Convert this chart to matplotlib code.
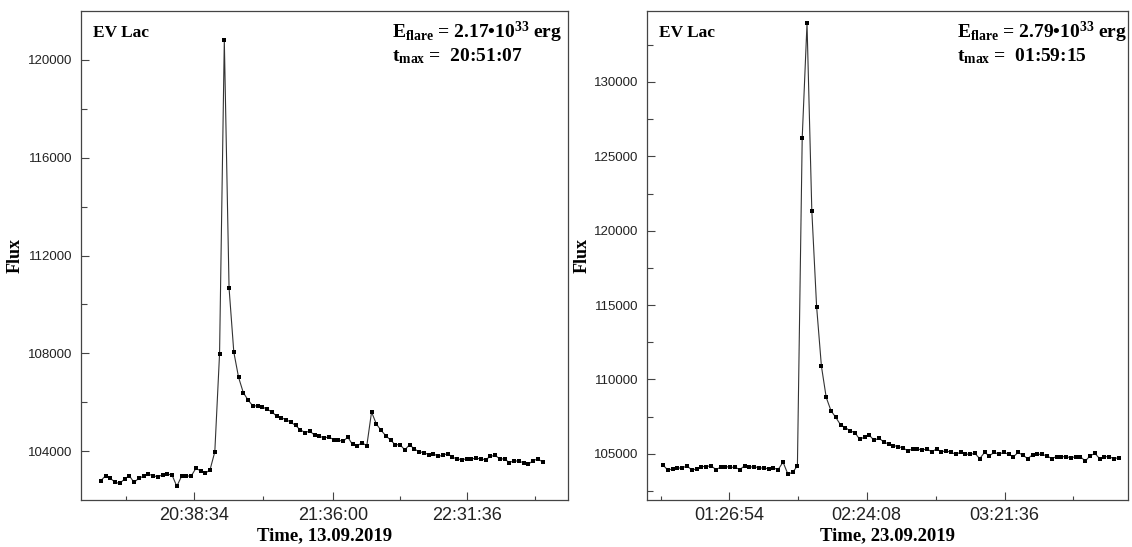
import matplotlib
matplotlib.use("Agg")
import matplotlib.pyplot as plt
import numpy as np
from matplotlib.ticker import FixedLocator, FixedFormatter, NullFormatter

plt.rcParams['mathtext.fontset'] = 'custom'
plt.rcParams['mathtext.rm'] = 'Liberation Serif'
plt.rcParams['mathtext.bf'] = 'Liberation Serif:bold'
plt.rcParams['mathtext.it'] = 'Liberation Serif:italic'


def hms(s):
    h, m, sec = (int(v) for v in s.split(':'))
    return h * 3600 + m * 60 + sec


# ---- flare 1: 13.09.2019 (cadence ~118 s, peak at index 26)
flux1 = [102790, 102990, 102890, 102720, 102680, 102860, 102990, 102720, 102890, 102970,
         103060, 102990, 102950, 103030, 103060, 103020, 102560, 102970, 102990, 102970,
         103290, 103200, 103090, 103240, 103970,
         107980, 120800, 110670, 108050, 107020, 106390, 106090, 105850, 105850, 105810,
         105710, 105610, 105430, 105360, 105290, 105180, 105050, 104870, 104760, 104820,
         104650, 104610, 104540, 104580, 104470, 104450, 104400, 104570, 104270, 104220,
         104340, 104220,
         105600,
         105110, 104850, 104630, 104450, 104260, 104260, 104050, 104260, 104090, 103970,
         103940, 103860, 103900, 103780, 103830, 103900, 103750, 103680, 103650, 103680,
         103680, 103710, 103680, 103650, 103780, 103830, 103680, 103680, 103530, 103610,
         103580, 103530, 103460, 103610, 103680, 103560]
tmax1 = '20:51:07'
peak1 = 26
cad1 = 118
ticks1 = ['20:38:34', '21:36:00', '22:31:36']
xlim1 = (71507, 83605)
ylim1 = (102000, 122000)
ymajor1 = [104000, 108000, 112000, 116000, 120000]
yminor1 = [106000, 110000, 114000, 118000]
energy1 = '2.17'
date1 = '13.09.2019'

# ---- flare 2: 23.09.2019 (cadence 120 s, peak at index 30)
flux2 = [104250, 103900, 104000, 104050, 104050, 104200, 103900, 104000, 104150, 104150,
         104200, 103950, 104100, 104150, 104100, 104100, 103950, 104200, 104100, 104150,
         104050, 104050, 104000, 104050, 103950, 104450, 103650, 103750, 104200,
         126250, 133950, 121350, 114900, 110900, 108800, 107900, 107450, 106950, 106760,
         106550, 106420, 105970, 106140, 106250, 105900, 106070, 105790, 105670, 105560,
         105490, 105400, 105210, 105330, 105330, 105260, 105330, 105140, 105330, 105140,
         105210, 105100, 104980, 105100, 104980, 104980, 105030, 104680, 105100, 104870,
         105100, 104980, 105100, 104980, 104800, 105100, 104910, 104680, 104940, 104980,
         104960, 104870, 104680, 104820, 104820, 104800, 104750, 104800, 104800, 104520,
         104870, 105030, 104680, 104820, 104800, 104680, 104750]
tmax2 = '01:59:15'
peak2 = 30
cad2 = 120
ticks2 = ['01:26:54', '02:24:08', '03:21:36']
xlim2 = (3153, 15183)
ylim2 = (101900, 134770)
ymajor2 = [105000, 110000, 115000, 120000, 125000, 130000]
yminor2 = [102500, 107500, 112500, 117500, 122500, 127500, 132500]
energy2 = '2.79'
date2 = '23.09.2019'

W, H = 1132, 547
fig = plt.figure(figsize=(W / 100, H / 100), dpi=100)
ax1 = fig.add_axes([81 / W, 47 / H, 487 / W, 489 / H])
ax2 = fig.add_axes([647 / W, 47 / H, 481 / W, 489 / H])

panels = [
    (ax1, flux1, tmax1, peak1, cad1, ticks1, xlim1, ylim1, ymajor1, yminor1, energy1, date1, 0.638),
    (ax2, flux2, tmax2, peak2, cad2, ticks2, xlim2, ylim2, ymajor2, yminor2, energy2, date2, 0.645),
]

serif = dict(family='Liberation Serif', weight='bold')

for ax, flux, tmax, peak, cad, ticks, xlim, ylim, ymaj, ymin, energy, date, xann in panels:
    t = hms(tmax) + cad * (np.arange(len(flux)) - peak)
    ax.plot(t, flux, '-', color='#333333', lw=0.8,
            marker='s', ms=3.4, mfc='black', mec='black', mew=0)

    ax.set_xlim(*xlim)
    ax.set_ylim(*ylim)

    # x ticks: labelled major times, unlabelled minor ticks half-way
    xmaj = [hms(s) for s in ticks]
    half = (xmaj[-1] - xmaj[0]) / (len(xmaj) - 1) / 2
    xmin = [xmaj[0] - half] + [(a + b) / 2 for a, b in zip(xmaj[:-1], xmaj[1:])] + [xmaj[-1] + half]
    ax.xaxis.set_major_locator(FixedLocator(xmaj))
    ax.xaxis.set_major_formatter(FixedFormatter(ticks))
    ax.xaxis.set_minor_locator(FixedLocator(xmin))
    ax.xaxis.set_minor_formatter(NullFormatter())

    ax.yaxis.set_major_locator(FixedLocator(ymaj))
    ax.yaxis.set_major_formatter(FixedFormatter([str(v) for v in ymaj]))
    ax.yaxis.set_minor_locator(FixedLocator(ymin))

    ax.tick_params(which='both', direction='in', top=False, right=False,
                   color='#444444', width=0.8, labelcolor='#222222')
    ax.tick_params(axis='x', which='major', length=6, pad=5, labelsize=13)
    ax.tick_params(axis='x', which='minor', length=3)
    ax.tick_params(axis='y', which='major', length=6, pad=6, labelsize=9.5)
    ax.tick_params(axis='y', which='minor', length=4)
    for lab in ax.get_xticklabels() + ax.get_yticklabels():
        lab.set_fontfamily('Liberation Sans')

    for sp in ax.spines.values():
        sp.set_color('#444444')
        sp.set_linewidth(0.9)

    ax.set_ylabel('Flux', fontsize=13, **serif)
    ax.yaxis.set_label_coords(-0.117, 0.5)
    ax.set_xlabel('Time, ' + date, fontsize=13.5, **serif)
    ax.xaxis.set_label_coords(0.5, -0.055)

    ax.text(0.024, 0.972, 'EV Lac', transform=ax.transAxes, ha='left', va='top',
            fontsize=12.5, **serif)
    ax.text(xann, 0.945, r'$\mathbf{E}_{\mathbf{flare}}$ = ' + energy + '•10$^{\\mathbf{33}}$ erg',
            transform=ax.transAxes, ha='left', va='baseline', fontsize=14, **serif)
    ax.text(xann, 0.898, r'$\mathbf{t}_{\mathbf{max}}$ =  ' + tmax,
            transform=ax.transAxes, ha='left', va='baseline', fontsize=14, **serif)

fig.savefig('out.png', dpi=100)
